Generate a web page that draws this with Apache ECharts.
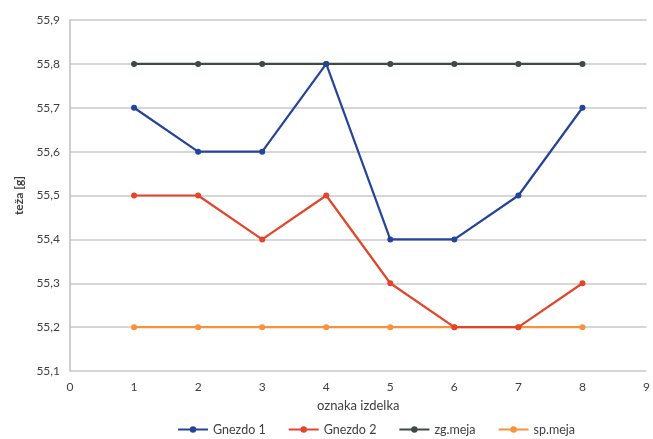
<!DOCTYPE html>
<html><head><meta charset="utf-8">
<script src="https://cdn.jsdelivr.net/npm/echarts@6/dist/echarts.min.js"></script>
<style>html,body{margin:0;padding:0;background:#fff}#c{width:653px;height:439px}</style>
</head><body><div id="c"></div>
<script>
const categories = [1, 2, 3, 4, 5, 6, 7, 8];
const gnezdo1 = [55.7, 55.6, 55.6, 55.8, 55.4, 55.4, 55.5, 55.7];
const gnezdo2 = [55.5, 55.5, 55.4, 55.5, 55.3, 55.2, 55.2, 55.3];
const zgMeja = [55.8, 55.8, 55.8, 55.8, 55.8, 55.8, 55.8, 55.8];
const spMeja = [55.2, 55.2, 55.2, 55.2, 55.2, 55.2, 55.2, 55.2];
const seriesNames = ['Gnezdo 1', 'Gnezdo 2', 'zg.meja', 'sp.meja'];
const colors = ['#24449a', '#e2452a', '#3e4a47', '#f7923a'];
const FONT = 'Lato';
const pairs = v => categories.map((c, i) => [c, v[i]]);
const chart = echarts.init(document.getElementById('c'));
const mk = (name, vals, color, z) => ({
  name, type: 'line', data: pairs(vals), symbol: 'circle', symbolSize: 6,
  z, lineStyle: { color, width: 2.2 }, itemStyle: { color }
});
chart.setOption({
  animation: false,
  textStyle: { fontFamily: FONT },
  grid: { left: 70, right: 6, top: 20, bottom: 68 },
  xAxis: {
    type: 'value', min: 0, max: 9, interval: 1,
    name: 'oznaka izdelka', nameLocation: 'middle', nameGap: 28,
    nameTextStyle: { color: '#404040', fontSize: 13, fontFamily: FONT },
    axisLine: { show: false }, axisTick: { show: false },
    splitLine: { show: false },
    axisLabel: { color: '#404040', fontSize: 12, margin: 10 }
  },
  yAxis: {
    type: 'value', min: 55.1, max: 55.9, interval: 0.1,
    name: 'teža [g]', nameLocation: 'middle', nameGap: 43,
    nameTextStyle: { color: '#404040', fontSize: 12, fontWeight: 'bold', fontFamily: FONT },
    axisLine: { show: true, lineStyle: { color: '#bfbfbf', width: 1.5 } },
    axisTick: { show: false },
    splitLine: { show: true, lineStyle: { color: '#c8c8c8', width: 1.5 } },
    axisLabel: { color: '#404040', fontSize: 12, margin: 10,
      formatter: v => v.toFixed(1).replace('.', ',') }
  },
  legend: {
    bottom: -2, left: 172, itemWidth: 30, itemHeight: 8, itemGap: 22,
    textStyle: { color: '#404040', fontSize: 12.5, fontFamily: FONT },
    data: seriesNames
  },
  series: [
    mk(seriesNames[0], gnezdo1, colors[0], 4),
    mk(seriesNames[1], gnezdo2, colors[1], 3),
    mk(seriesNames[2], zgMeja, colors[2], 2),
    mk(seriesNames[3], spMeja, colors[3], 2)
  ]
});
</script></body></html>
